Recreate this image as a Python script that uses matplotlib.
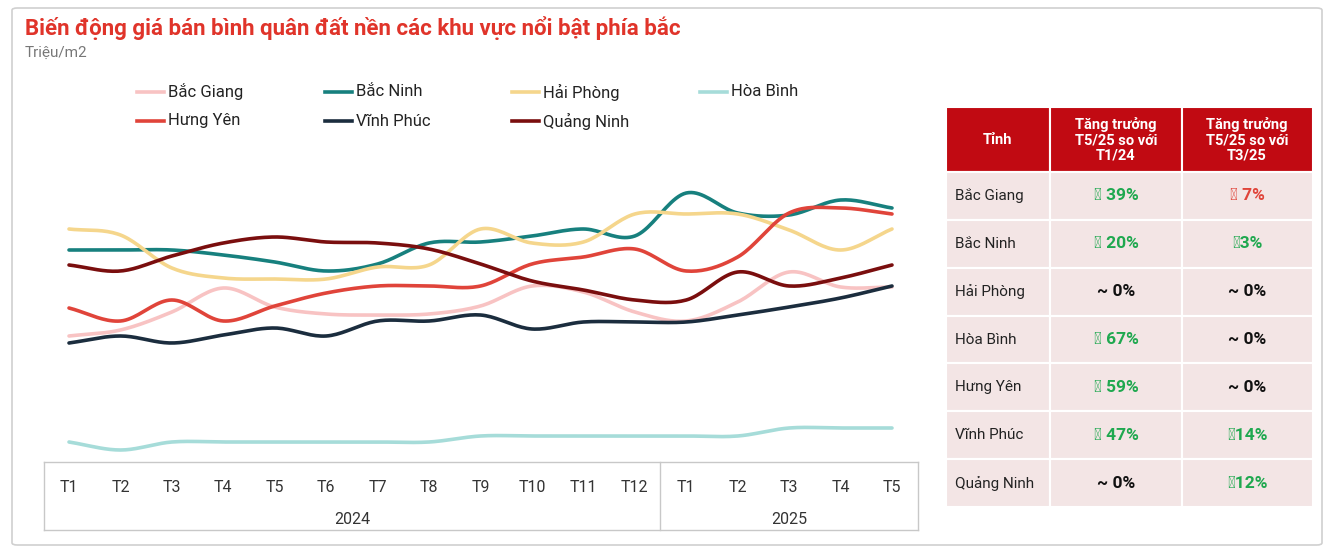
import numpy as np
import matplotlib
matplotlib.use("Agg")
import matplotlib.pyplot as plt
from matplotlib.patches import Rectangle, FancyBboxPatch
from matplotlib.lines import Line2D

plt.rcParams["font.family"] = "Roboto"

months = ["T1","T2","T3","T4","T5","T6","T7","T8","T9","T10","T11","T12","T1","T2","T3","T4","T5"]
years = ["2024", "2025"]
bac_giang = [144,150,168,192,173,166,165,166,174,194,188,168,159,178,208,193,193]
bac_ninh = [230,230,230,225,218,209,216,237,238,244,251,244,287,267,265,280,272]
hai_phong = [251,245,212,202,201,201,213,215,251,237,238,266,266,266,250,230,251]
hoa_binh = [38,30,38,38,38,38,38,38,44,44,44,44,44,44,52,52,52]
hung_yen = [172,159,180,159,174,187,194,194,194,216,223,231,209,223,267,272,266]
vinh_phuc = [137,144,137,145,152,144,159,159,165,151,158,158,158,165,173,182,194]
quang_ninh = [215,209,224,237,243,238,237,231,216,199,190,180,180,208,194,202,215]

series = [("Bắc Giang", bac_giang, "#f8c3c3"), ("Bắc Ninh", bac_ninh, "#17807e"),
          ("Hải Phòng", hai_phong, "#f5d68c"), ("Hòa Bình", hoa_binh, "#a6dcd9"),
          ("Hưng Yên", hung_yen, "#e0443a"), ("Vĩnh Phúc", vinh_phuc, "#1b2d3e"),
          ("Quảng Ninh", quang_ninh, "#7a0e0e")]

tbl_provinces = ["Bắc Giang","Bắc Ninh","Hải Phòng","Hòa Bình","Hưng Yên","Vĩnh Phúc","Quảng Ninh"]
tbl_col1 = ["▲ 39%","▲ 20%","~ 0%","▲ 67%","▲ 59%","▲ 47%","~ 0%"]
tbl_col2 = ["▼ 7%","▲3%","~ 0%","~ 0%","~ 0%","▲14%","▲12%"]

W, H = 1333, 556
fig = plt.figure(figsize=(W/100, H/100), dpi=100)

def fx(x): return x / W
def fy(y): return 1 - y / H

# border
fig.patches.append(FancyBboxPatch((fx(12), fy(545)), fx(1310), 537/H, boxstyle="round,pad=0,rounding_size=0.004",
                                  transform=fig.transFigure, fill=False, ec="#d0d0d0", lw=1.2))
fig.text(fx(25), fy(28), "Biến động giá bán bình quân đất nền các khu vực nổi bật phía bắc",
         color="#e0342a", fontsize=16, fontweight="bold", va="center")
fig.text(fx(25), fy(53), "Triệu/m2", color="#777777", fontsize=11, va="center")

def catmull(xs, ys, n=20):
    xs = np.asarray(xs, float); ys = np.asarray(ys, float)
    px = np.concatenate([[2*xs[0]-xs[1]], xs, [2*xs[-1]-xs[-2]]])
    py = np.concatenate([[2*ys[0]-ys[1]], ys, [2*ys[-1]-ys[-2]]])
    ox, oy = [], []
    for i in range(1, len(px)-2):
        t = np.linspace(0, 1, n, endpoint=False)
        for arr, out in ((px, ox), (py, oy)):
            p0, p1, p2, p3 = arr[i-1], arr[i], arr[i+1], arr[i+2]
            out.extend(0.5*((2*p1) + (-p0+p2)*t + (2*p0-5*p1+4*p2-p3)*t**2 + (-p0+3*p1-3*p2+p3)*t**3))
    ox.append(xs[-1]); oy.append(ys[-1])
    return ox, oy

ax = fig.add_axes([fx(44), fy(462), fx(918)-fx(44), (462-150)/H])
ax.axis("off")
sp = (892-69)/16
ax.set_xlim(-(69-44)/sp, 16 + (918-892)/sp)
ax.set_ylim(18, 330)
x = np.arange(len(months))
for name, vals, c in series:
    sx, sy = catmull(x, vals)
    ax.plot(sx, sy, color=c, lw=2.6, solid_capstyle="round")

# category axis box
def fl(x0, y0, x1, y1):
    fig.lines.append(Line2D([fx(x0), fx(x1)], [fy(y0), fy(y1)], transform=fig.transFigure, color="#c8c8c8", lw=1))
fl(44, 462, 918, 462); fl(44, 530, 918, 530)
for xv in (44, 660, 918): fl(xv, 462, xv, 530)
for i, m in enumerate(months):
    fig.text(fx(69 + i*sp), fy(487), m, ha="center", va="center", fontsize=11.5, color="#333333")
fig.text(fx(352), fy(519), years[0], ha="center", va="center", fontsize=11.5, color="#333333")
fig.text(fx(789), fy(519), years[1], ha="center", va="center", fontsize=11.5, color="#333333")

# legend
leg_pos = [(137, 92), (325, 92), (512, 92), (700, 92), (137, 121), (325, 121), (512, 121)]
for (name, vals, c), (lx, ly) in zip(series, leg_pos):
    fig.lines.append(Line2D([fx(lx), fx(lx+27)], [fy(ly), fy(ly)], transform=fig.transFigure, color=c, lw=2.6))
    fig.text(fx(lx+31), fy(ly), name, va="center", fontsize=12, color="#222222")

# table
cols = [946, 1050, 1182, 1313]
top, hh = 107, 65
rh = (507 - 172) / 7
red = "#c10a12"
for j in range(3):
    fig.patches.append(Rectangle((fx(cols[j]), fy(top+hh)), fx(cols[j+1]-cols[j]), hh/H,
                                 transform=fig.transFigure, fc=red, ec="white", lw=1.5))
fig.text(fx(998), fy(140), "Tỉnh", ha="center", va="center", color="white", fontsize=10.5, fontweight="bold")
hdr = "Tăng trưởng\nT5/25 so với\nT1/24"
fig.text(fx(1116), fy(140), hdr, ha="center", va="center", color="white", fontsize=10.5, fontweight="bold", linespacing=1.1)
fig.text(fx(1247), fy(140), "Tăng trưởng\nT5/25 so với\nT3/25", ha="center", va="center", color="white", fontsize=10.5, fontweight="bold", linespacing=1.1)

def vcolor(s):
    if "▲" in s: return "#1fa84f"
    if "▼" in s: return "#e0443a"
    return "#111111"

for i in range(7):
    y0 = 172 + i*rh
    for j in range(3):
        fig.patches.append(Rectangle((fx(cols[j]), fy(y0+rh)), fx(cols[j+1]-cols[j]), rh/H,
                                     transform=fig.transFigure, fc="#f3e5e5", ec="white", lw=1.5))
    yc = y0 + rh/2
    fig.text(fx(955), fy(yc), tbl_provinces[i], va="center", fontsize=11, color="#222222")
    fig.text(fx(1116), fy(yc), tbl_col1[i], ha="center", va="center", fontsize=12.5, fontweight="bold", color=vcolor(tbl_col1[i]))
    fig.text(fx(1247), fy(yc), tbl_col2[i], ha="center", va="center", fontsize=12.5, fontweight="bold", color=vcolor(tbl_col2[i]))

fig.savefig("out.png", dpi=100)
